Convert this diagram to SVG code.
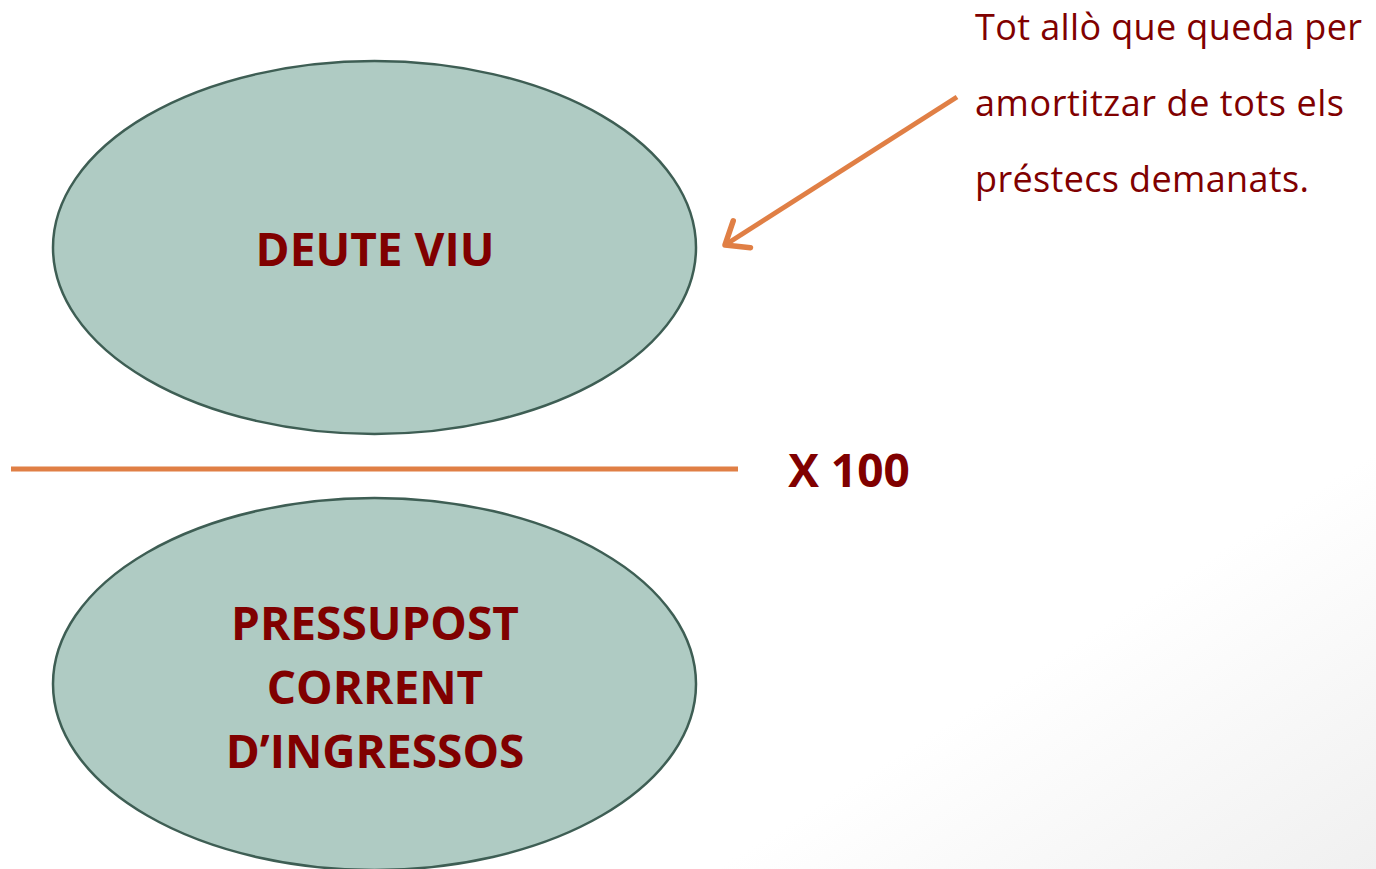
<svg xmlns="http://www.w3.org/2000/svg" width="1376" height="869" viewBox="0 0 1376 869">
<style>
.node ellipse{fill:#AFCBC3;stroke:#3E5E54;stroke-width:2.5}
.lbl{font-family:"Open Sans","Liberation Sans",sans-serif;font-weight:700;fill:#800000;text-anchor:middle}
.note{font-family:"Open Sans","Liberation Sans",sans-serif;fill:#800000;font-size:36px}
.conn{stroke:#E07F45;stroke-width:5;fill:none;stroke-linecap:butt}
</style>
<defs>
<linearGradient id="bg" x1="0" y1="0" x2="1" y2="1">
<stop offset="0.76" stop-color="#ffffff"/>
<stop offset="1" stop-color="#f0f0f0"/>
</linearGradient>
<marker id="ah" viewBox="0 0 12 12" refX="10" refY="6" markerWidth="12" markerHeight="12" markerUnits="userSpaceOnUse" orient="auto" overflow="visible">
<path d="M-10,-10 L10,6 L-10,22" fill="none" stroke="#E07F45" stroke-width="5.5" stroke-linecap="round" stroke-linejoin="round"/>
</marker>
</defs>
<rect width="1376" height="869" fill="url(#bg)"/>
<g id="connectors">
<line class="conn" x1="11" y1="469" x2="738" y2="469"/>
<line class="conn" x1="957" y1="97" x2="725" y2="245" marker-end="url(#ah)"/>
</g>
<g id="deute-viu" class="node">
<ellipse cx="374.5" cy="247.5" rx="321.5" ry="186.5"/>
<text class="lbl" x="375" y="266" font-size="46">DEUTE VIU</text>
</g>
<g id="pressupost" class="node">
<ellipse cx="374.5" cy="684" rx="321.5" ry="186"/>
<text class="lbl" x="375" y="640" font-size="46">PRESSUPOST</text>
<text class="lbl" x="375" y="704" font-size="46">CORRENT</text>
<text class="lbl" x="375" y="768" font-size="46">D’INGRESSOS</text>
</g>
<g id="x100">
<text class="lbl" x="849" y="487" font-size="46">X 100</text>
</g>
<g id="note">
<text class="note" x="975" y="40" textLength="387">Tot allò que queda per</text>
<text class="note" x="975" y="116" textLength="369">amortitzar de tots els</text>
<text class="note" x="975" y="192" textLength="334">préstecs demanats.</text>
</g>
</svg>
